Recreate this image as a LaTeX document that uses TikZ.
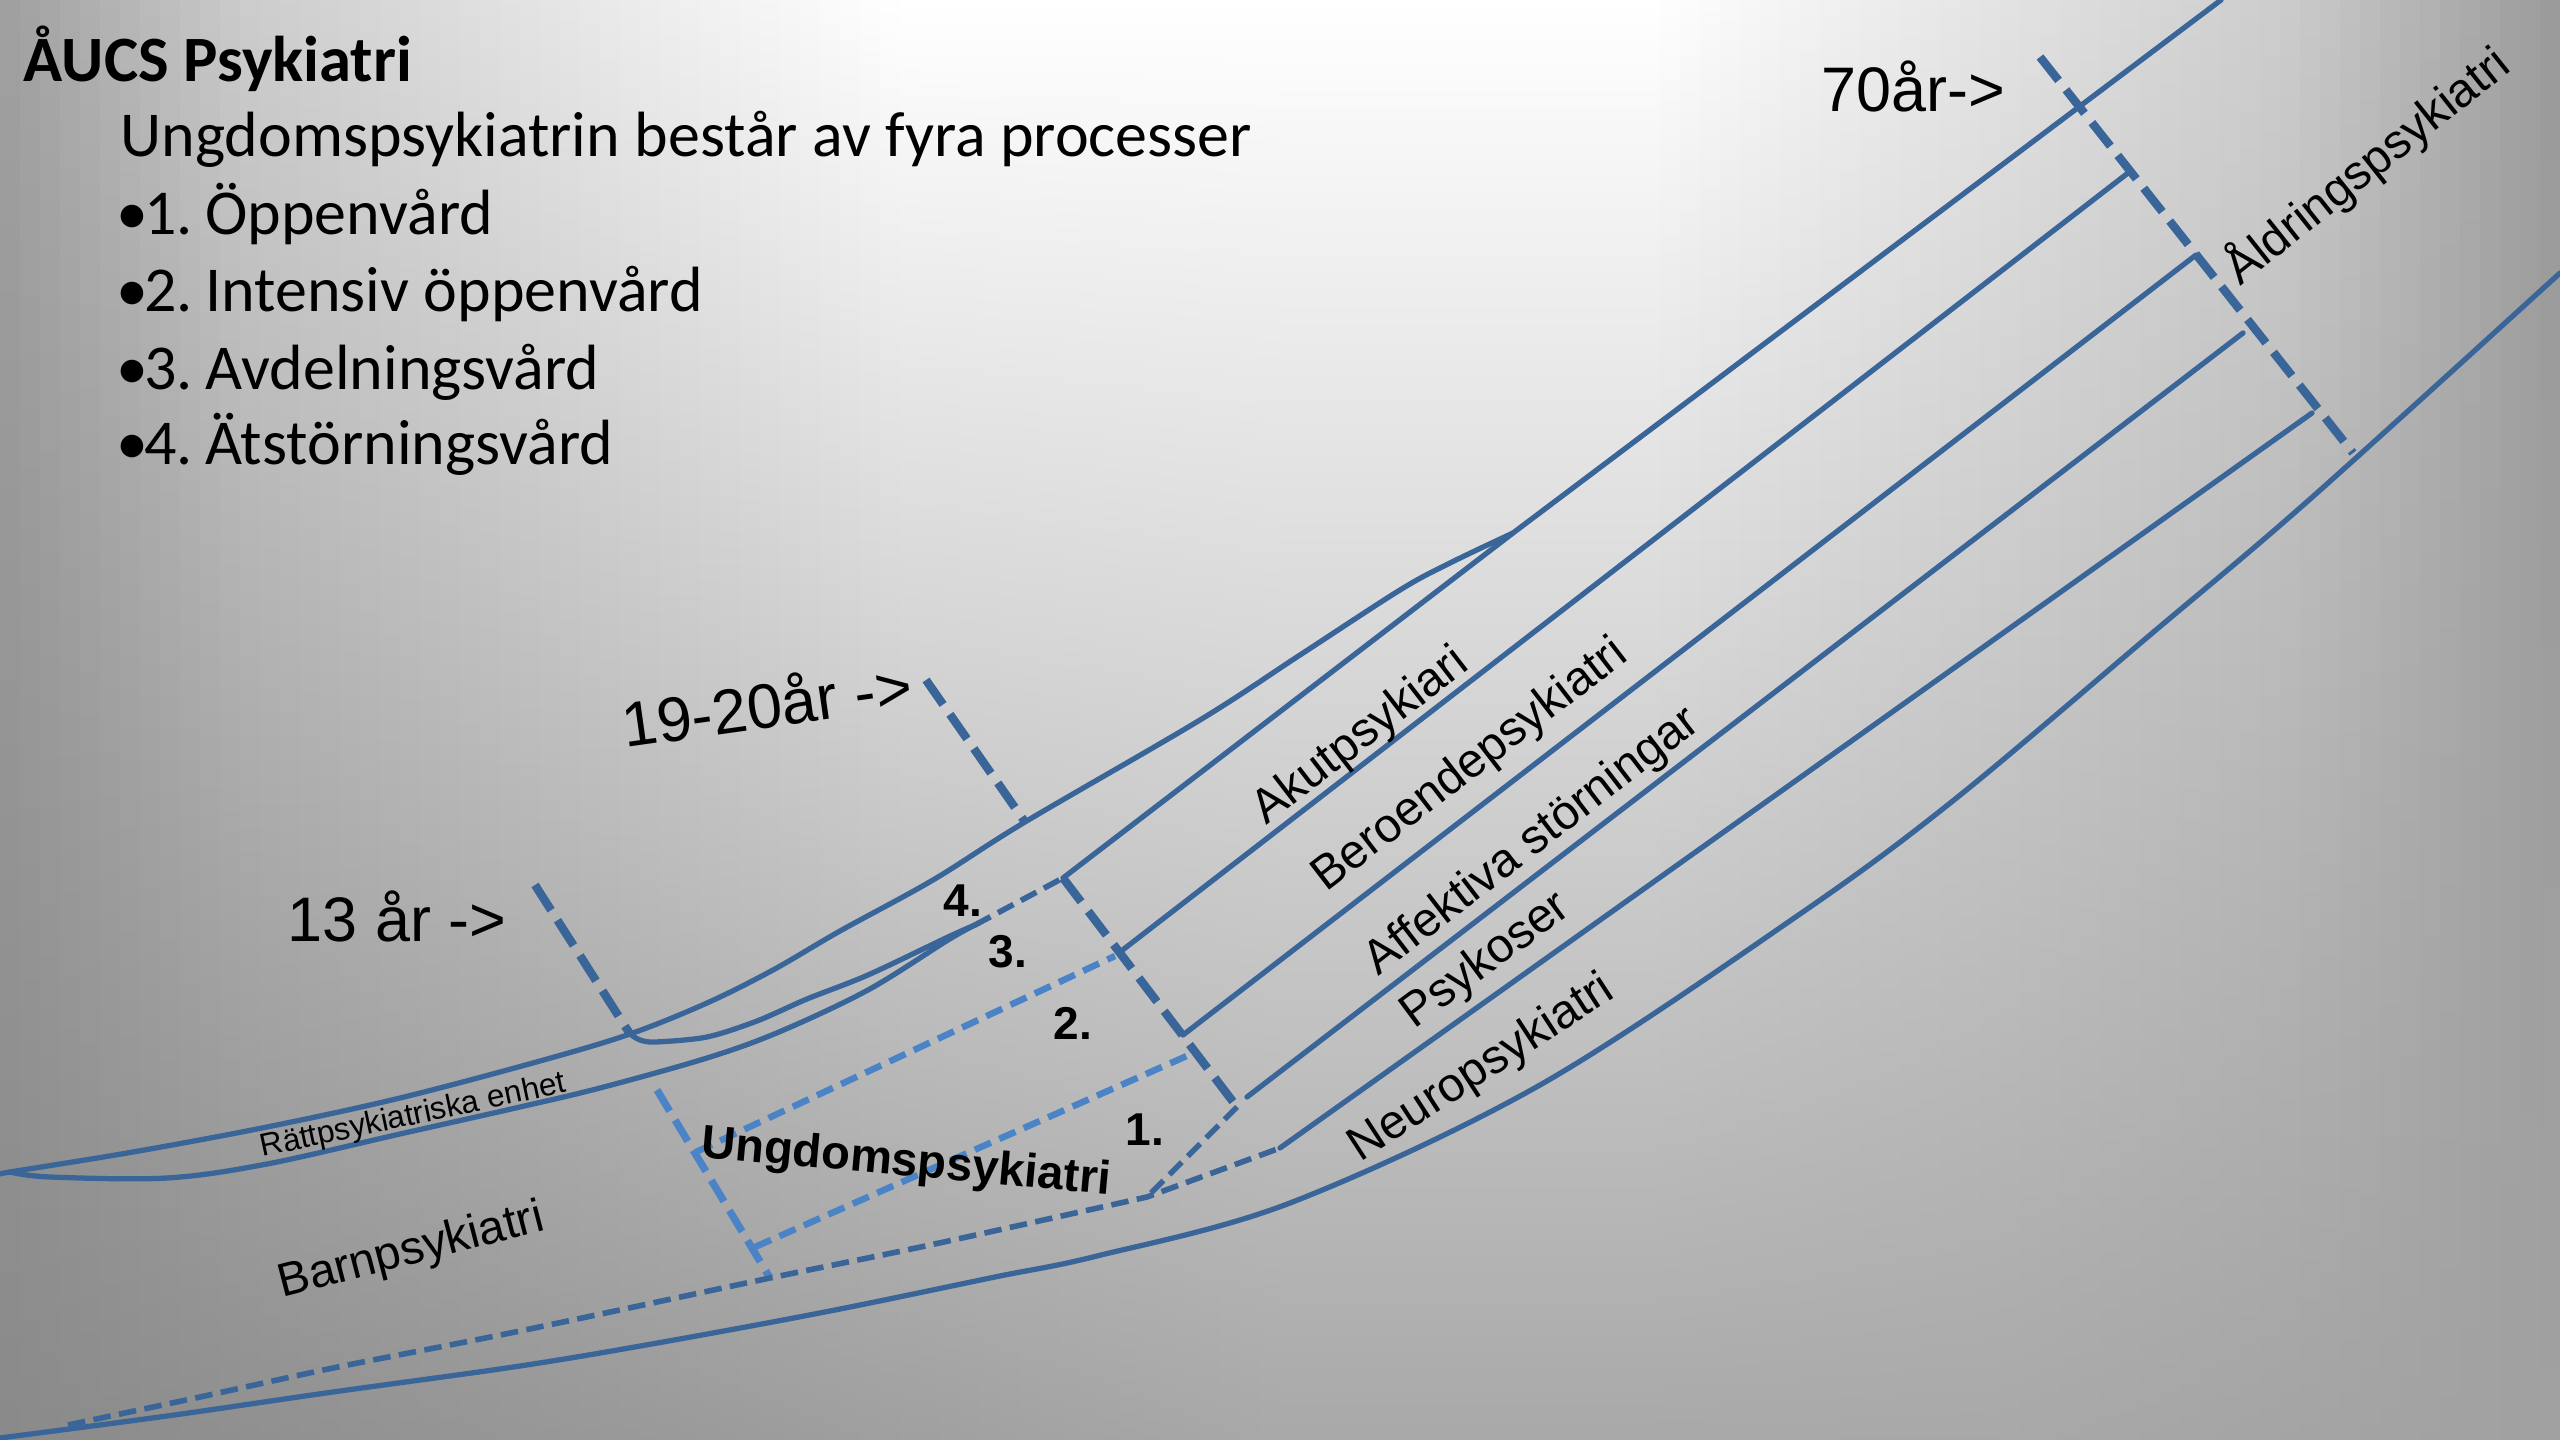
\documentclass[tikz,border=0pt]{standalone}
\usepackage{fontspec}
\setmainfont{Liberation Sans}
\newfontfamily\calibri{Carlito}
\definecolor{lineblue}{RGB}{58,101,153}
\definecolor{lightblue}{RGB}{74,132,198}
\begin{document}
\begin{tikzpicture}[x=0.1mm,y=-0.1mm,
  solidline/.style={draw=lineblue, line width=1.5pt, line join=round, line cap=round},
  thickdash/.style={draw=lineblue, line width=2.4pt, dash pattern=on 8.5pt off 3.4pt},
  thindash/.style={draw=lineblue, line width=1.6pt, dash pattern=on 5pt off 2.4pt},
  lbdash/.style={draw=lightblue, line width=1.85pt, dash pattern=on 5pt off 2.6pt},
  lbthick/.style={draw=lightblue, line width=2.1pt, dash pattern=on 7pt off 3pt},
  txt/.style={inner sep=0pt, anchor=base west, text=black},
  headtxt/.style={txt, font=\calibri\fontsize{18.2}{21}\selectfont},
  agetxt/.style={txt, font=\fontsize{17.9}{21}\selectfont},
  diagtxt/.style={txt, font=\fontsize{13.6}{15}\selectfont},
  numtxt/.style={txt, font=\bfseries\fontsize{13.1}{15}\selectfont}]
\useasboundingbox (0,0) rectangle (2560,1440);
% background: columns with vertical shading
\foreach \i in {0,...,127}{
  \pgfmathsetmacro{\xm}{\i*20+10}
  \pgfmathsetmacro{\tv}{\xm<900 ? (\xm<245 ? 0.62+0.18*\xm/245 : (\xm<650 ? 0.80+0.13*(\xm-245)/405 : 0.93+0.07*(\xm-650)/250)) : (\xm<1650 ? 1.0 : (\xm<2285 ? 1.0-0.2*(\xm-1650)/635 : 0.80-0.2*(\xm-2285)/275))}
  \pgfmathsetmacro{\bv}{\xm<1280 ? 0.54+0.12*\xm/1280 : (\xm<2000 ? 0.66 : 0.66-0.03*(\xm-2000)/560)}
  \definecolor{colT}{gray}{\tv}
  \definecolor{colB}{gray}{\bv}
  \shade[top color=colT, bottom color=colB] (\i*20,0) rectangle (\i*20+21,1440);
}

% key points
\coordinate (tip) at (10,1172);
\coordinate (j13) at (630,1034);
\coordinate (t13) at (535,885);
\coordinate (lbtop) at (657,1090);
\coordinate (lbbot) at (770,1278);
\coordinate (t19) at (926,680);
\coordinate (u19) at (1025,822);
\coordinate (c4) at (1063,878);
\coordinate (tip34) at (975,925);
\coordinate (rb2) at (1120,952);
\coordinate (rb3) at (1183,1035);
\coordinate (rb4) at (1237,1107);
\coordinate (l4s) at (1247,1097);
\coordinate (dj) at (1147,1197);
\coordinate (c5) at (1280,1148);
\coordinate (loop) at (1513,533);
\coordinate (l1e) at (2221,0);
\coordinate (l2e) at (2128,173);
\coordinate (l3e) at (2196,255);
\coordinate (l4e) at (2243,333);
\coordinate (l5e) at (2312,413);
\coordinate (t70) at (2040,57);
\coordinate (b70) at (2353,453);
\coordinate (dstart) at (68,1425);
\coordinate (lb1a) at (696,1152);
\coordinate (lb1b) at (1115,956);
\coordinate (lb2a) at (755,1247);
\coordinate (lb2b) at (1189,1055);

% dashed age lines
\draw[thickdash] (t13) -- (j13);
\draw[lbthick] (lbtop) -- (lbbot);
\draw[thickdash] (t19) -- (u19);
\draw[thickdash] (t70) -- (b70);
\draw[thickdash] (c4) -- (rb4);
\draw[thindash] (rb4) -- (dj);
\draw[thindash] (tip34) -- (c4);
\draw[lbdash] (lb1a) -- (lb1b);
\draw[lbdash] (lb2a) -- (lb2b);
\draw[thindash] plot[smooth, tension=0.5] coordinates {(dstart) (200,1397) (333,1368) (520,1331) (lbbot) (930,1245) (dj)} -- (c5);

% solid curves
\draw[solidline] plot[smooth, tension=0.55] coordinates {(0,1174) (tip) (133,1152) (267,1127) (400,1098) (540,1061) (j13) (707,1003) (773,970) (840,931) (933,880) (1025,822) (1200,720) (1300,655) (1400,590) (1450,563) (loop)};
\draw[solidline] plot[smooth, tension=0.55] coordinates {(tip) (50,1177) (167,1178) (267,1164) (400,1134) (520,1107) (600,1088) (707,1058) (779,1032) (868,990) (948,940) (tip34)};
\draw[solidline] plot[smooth, tension=0.5] coordinates {(j13) (640,1040) (656,1042) (707,1037) (757,1021) (807,999) (868,975) (948,937) (tip34)};
\draw[solidline] (c4) -- (loop) -- (l1e);
\draw[solidline] (rb2) -- (l2e);
\draw[solidline] (rb3) -- (l3e);
\draw[solidline] (l4s) -- (l4e);
\draw[solidline] (c5) -- (l5e);
\draw[solidline] plot[smooth, tension=0.55] coordinates {(0,1438) (167,1416) (333,1392) (520,1366) (663,1342) (830,1311) (995,1277) (1097,1256) (1290,1203) (1540,1085) (1800,914) (1954,800) (2150,635) (2309,500) (2560,273)};

% heading
\node[headtxt, font=\calibri\bfseries\fontsize{18.4}{21}\selectfont] (title) at (23,82) {ÅUCS Psykiatri};
\node[headtxt] (sub) at (120,157) {Ungdomspsykiatrin består av fyra processer};
\node[headtxt] (p1) at (116,235) {•\kern-0.07em1.\kern-0.1em{} Öppenvård};
\node[headtxt] (p2) at (116,312) {•\kern-0.07em2.\kern-0.1em{} Intensiv öppenvård};
\node[headtxt] (p3) at (116,390) {•\kern-0.07em3.\kern-0.1em{} Avdelningsvård};
\node[headtxt] (p4) at (116,465) {•\kern-0.07em4.\kern-0.1em{} Ätstörningsvård};

% age labels
\node[agetxt] (a13) at (287,942) {13 år ->};
\node[agetxt, rotate=8] (a19) at (625,748) {19-20år ->};
\node[agetxt] (a70) at (1821,112) {70år->};

% area labels
\node[txt, font=\fontsize{9}{10}\selectfont, rotate=12] (ratt) at (262,1157) {Rättpsykiatriska enhet};
\node[txt, font=\fontsize{13.4}{15}\selectfont, rotate=14.5] (barn) at (282,1298) {Barnpsykiatri};
\node[txt, font=\bfseries\fontsize{13.4}{16}\selectfont, rotate=-5.2] (ungd) at (700,1157) {Ungdomspsykiatri};
\node[diagtxt, rotate=37.6] (akut) at (1266,826) {Akutpsykiari};
\node[diagtxt, rotate=37.6] (ber) at (1326,893) {Beroendepsykiatri};
\node[diagtxt, rotate=37.6] (aff) at (1378,977) {Affektiva störningar};
\node[diagtxt, rotate=36.5] (psy) at (1414,1030) {Psykoser};
\node[diagtxt, rotate=33] (neu) at (1360,1163) {Neuropsykiatri};
\node[diagtxt, rotate=38.5] (ald) at (2240,287) {Åldringspsykiatri};

% process numbers
\node[numtxt] (n4) at (943,917) {4.};
\node[numtxt] (n3) at (988,968) {3.};
\node[numtxt] (n2) at (1053,1040) {2.};
\node[numtxt] (n1) at (1125,1145) {1.};
\end{tikzpicture}
\end{document}
